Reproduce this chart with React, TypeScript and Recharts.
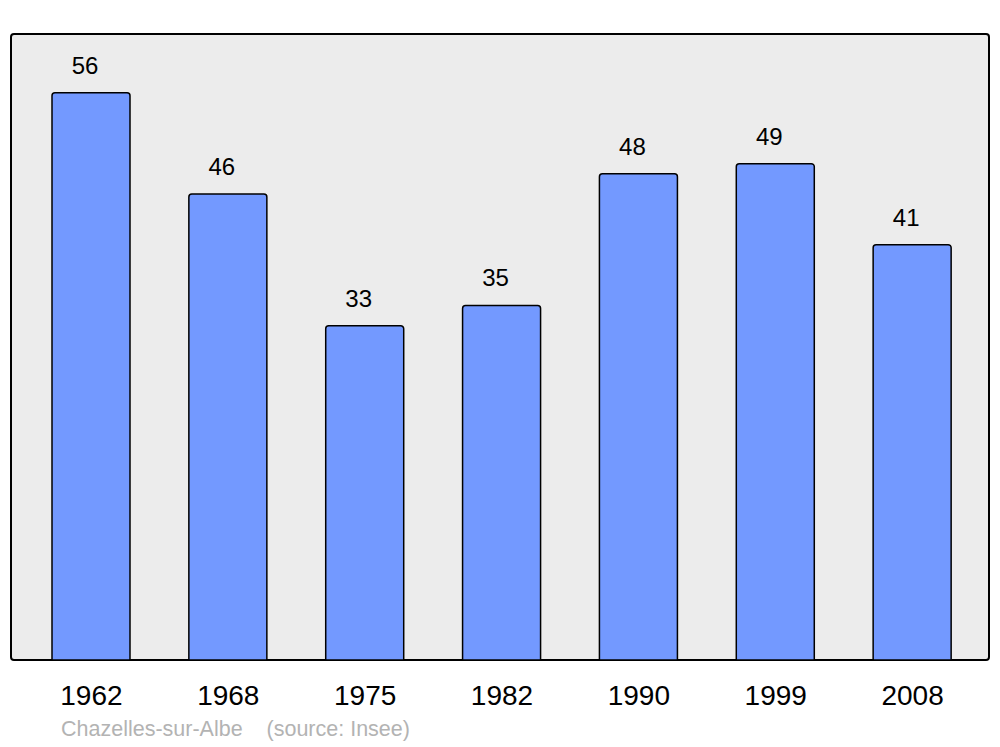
import React from "react";
import { BarChart, Bar, XAxis, YAxis, LabelList } from "recharts";

const years = ["1962", "1968", "1975", "1982", "1990", "1999", "2008"];
const population = [56, 46, 33, 35, 48, 49, 41];
const yMax = 61.8;

const data = years.map((year, i) => ({ year, value: population[i] }));

const FONT = '"Liberation Sans", Arial, sans-serif';

export default function App() {
  return (
    <div
      style={{
        position: "absolute",
        left: 0,
        top: 0,
        width: 1000,
        height: 747,
        background: "#fff",
        fontFamily: FONT,
      }}
    >
      {/* plot frame behind the svg */}
      <div
        style={{
          position: "absolute",
          left: 10,
          top: 33,
          width: 976,
          height: 624,
          background: "#ececec",
          border: "2.5px solid #000",
          borderRadius: 4,
        }}
      />
      <div style={{ position: "absolute", left: 0, top: 0 }}>
        <BarChart
          width={1000}
          height={747}
          data={data}
          margin={{ top: 34, right: 11, bottom: 57, left: 11 }}
          style={{ fontFamily: FONT }}
        >
          <XAxis
            dataKey="year"
            axisLine={false}
            tickLine={false}
            tickMargin={19}
            padding={{ left: 12, right: 8 }}
            tick={{ fill: "#000", fontSize: 28 }}
          />
          <YAxis hide domain={[0, yMax]} />
          <Bar
            dataKey="value"
            fill="#7399ff"
            stroke="#000"
            strokeWidth={1.5}
            barSize={78}
            radius={[3, 3, 0, 0]}
            isAnimationActive={false}
          >
            <LabelList
              dataKey="value"
              position="top"
              offset={19}
              dx={-6}
              fill="#000"
              fontSize={24}
            />
          </Bar>
        </BarChart>
      </div>
      <div
        style={{
          position: "absolute",
          left: 61,
          top: 717,
          fontSize: 21.5,
          color: "#b3b3b3",
          whiteSpace: "pre",
        }}
      >
        {"Chazelles-sur-Albe    (source: Insee)"}
      </div>
    </div>
  );
}
